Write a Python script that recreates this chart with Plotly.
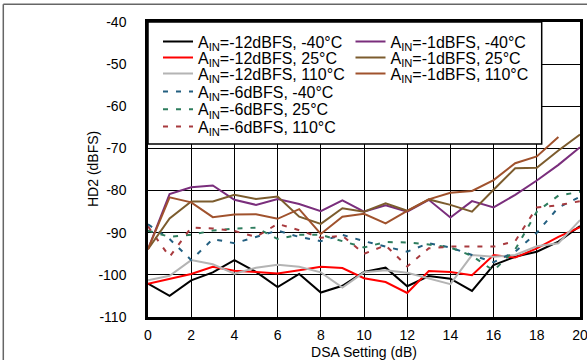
import plotly.graph_objects as go

dsa = list(range(21))

hd2_m12_m40 = [-102.1, -105.0, -101.3, -99.4, -96.5, -99.3, -102.9, -99.8, -104.2, -102.6, -99.3,
               -98.3, -102.7, -100.3, -100.9, -103.8, -97.7, -95.7, -94.5, -92.1, -88.4]
hd2_m12_25 = [-102.1, -100.9, -99.8, -98.1, -99.0, -99.3, -99.7, -98.9, -98.1, -98.4, -100.8,
              -101.7, -104.3, -99.1, -99.3, -100.1, -95.3, -95.9, -93.7, -91.0, -88.7]
hd2_m12_110 = [-101.3, -100.2, -96.5, -97.5, -99.7, -98.3, -97.6, -98.1, -99.4, -103.0, -99.4,
               -98.9, -99.5, -100.9, -102.2, -95.3, -95.7, -95.3, -93.2, -92.5, -87.0]
hd2_m6_m40 = [-88.0, -91.5, -96.5, -91.5, -92.5, -91.0, -89.5, -91.0, -92.0, -90.5, -92.0,
              -93.3, -94.5, -92.5, -93.5, -95.3, -97.0, -94.5, -90.0, -84.0, -81.5]
hd2_m6_25 = [-89.5, -91.0, -90.5, -89.5, -89.0, -88.8, -91.5, -90.5, -90.5, -92.0, -93.5,
             -92.2, -92.3, -92.8, -93.5, -95.5, -99.0, -94.0, -85.0, -81.2, -80.3]
hd2_m6_110 = [-88.5, -95.7, -88.8, -89.0, -89.6, -91.0, -87.9, -89.4, -91.2, -90.7, -95.0,
              -93.0, -98.0, -93.7, -93.3, -93.3, -93.3, -92.0, -84.0, -83.5, -82.5]
hd2_m1_m40 = [-93.9, -80.8, -79.2, -78.8, -82.2, -83.4, -82.0, -83.2, -84.9, -82.3, -85.0,
              -83.5, -85.0, -82.2, -86.4, -82.5, -84.0, -81.0, -77.6, -73.9, -69.7]
hd2_m1_25 = [-93.9, -86.6, -82.6, -82.6, -81.0, -82.0, -81.4, -86.2, -87.9, -84.2, -85.0,
             -83.0, -84.8, -82.1, -83.4, -85.0, -79.8, -74.7, -74.6, -70.5, -66.7]
hd2_m1_110 = [-93.9, -81.6, -82.8, -86.3, -85.7, -85.6, -86.7, -84.4, -90.3, -86.2, -85.5,
              -87.8, -84.8, -82.1, -80.5, -80.1, -77.5, -73.5, -71.9, -67.3, None]

series_names = [
    "A<sub>IN</sub>=-12dBFS, -40°C", "A<sub>IN</sub>=-12dBFS, 25°C", "A<sub>IN</sub>=-12dBFS, 110°C",
    "A<sub>IN</sub>=-6dBFS, -40°C", "A<sub>IN</sub>=-6dBFS, 25°C", "A<sub>IN</sub>=-6dBFS, 110°C",
    "A<sub>IN</sub>=-1dBFS, -40°C", "A<sub>IN</sub>=-1dBFS, 25°C", "A<sub>IN</sub>=-1dBFS, 110°C",
]
series_values = [hd2_m12_m40, hd2_m12_25, hd2_m12_110,
                 hd2_m6_m40, hd2_m6_25, hd2_m6_110,
                 hd2_m1_m40, hd2_m1_25, hd2_m1_110]

y_tick_vals = [-110, -100, -90, -80, -70, -60, -50, -40]
y_tick_text = ["-110", "-100", "-90", "-80", "-70", "-60", "-50", "-40"]
x_tick_vals = [0, 2, 4, 6, 8, 10, 12, 14, 16, 18, 20]
x_tick_text = ["0", "2", "4", "6", "8", "10", "12", "14", "16", "18", "20"]

FONT = "Liberation Sans, Arial, sans-serif"
DOT = "5px,8px"
colors = ["#000000", "#ff0000", "#b4b4b4", "#235f80", "#2e7d5e", "#a83a3e",
          "#7a2e7c", "#7c5c2e", "#a0522d"]
dashes = ["solid", "solid", "solid", DOT, DOT, DOT, "solid", "solid", "solid"]

# plot area geometry (pixels) used to place the legend entries
L, R, T, B = 148, 7, 22, 43
W, H = 587, 360
PW, PH = W - L - R, H - T - B


def px_x(px):
    return (px - L) / PW


def px_y(py):
    return (H - B - py) / PH


leg_x = [158, 158, 158, 158, 158, 158, 350.5, 350.5, 350.5]
leg_y = [41.5, 57.5, 73.5, 91.7, 109.3, 126.7, 41.5, 57.5, 73.5]

fig = go.Figure()
legend_layouts = {}
for i, (name, vals) in enumerate(zip(series_names, series_values)):
    lname = "legend" if i == 0 else f"legend{i + 1}"
    fig.add_trace(go.Scatter(
        x=dsa, y=vals, name=name, mode="lines",
        line=dict(color=colors[i], width=2, dash=dashes[i]),
        legend=lname, connectgaps=False,
    ))
    legend_layouts[lname] = dict(
        x=px_x(leg_x[i]), y=px_y(leg_y[i]), xanchor="left", yanchor="middle",
        bgcolor="rgba(0,0,0,0)", borderwidth=0,
        font=dict(family=FONT, size=16, color="black"),
        itemclick=False, itemdoubleclick=False,
    )

axis_common = dict(
    showgrid=True, gridcolor="#000000", gridwidth=1,
    showline=True, linecolor="#000000", linewidth=2.5, mirror=True,
    ticks="", zeroline=False, automargin=False, ticklabeloverflow="allow",
    tickfont=dict(family=FONT, size=14, color="black"),
)

fig.update_xaxes(range=[0, 20], tickmode="array", tickvals=x_tick_vals, ticktext=x_tick_text,
                 ticklabelstandoff=3,
                 title=dict(text="DSA Setting (dB)", standoff=10,
                            font=dict(family=FONT, size=14, color="black")),
                 **axis_common)
fig.update_yaxes(range=[-110, -40], tickmode="array", tickvals=y_tick_vals, ticktext=y_tick_text,
                 ticklabelstandoff=16,
                 **axis_common)

fig.update_layout(
    width=W, height=H,
    margin=dict(l=L, r=R, t=T, b=B),
    paper_bgcolor="white", plot_bgcolor="white",
    font=dict(family=FONT, size=14, color="black"),
    showlegend=True,
    annotations=[
        dict(text="HD2 (dBFS)", textangle=-90, xref="paper", yref="paper",
             x=px_x(92.5), y=0.5, xanchor="center", yanchor="middle", showarrow=False,
             font=dict(family=FONT, size=14, color="black")),
    ],
    shapes=[
        # legend box
        dict(type="rect", xref="paper", yref="paper", x0=0, x1=px_x(541.7),
             y0=px_y(144), y1=1,
             fillcolor="white", line=dict(color="black", width=1.5), layer="above"),
        # outer frame lines
        dict(type="line", xref="paper", yref="paper", x0=px_x(3.3), x1=px_x(590),
             y0=px_y(4.3), y1=px_y(4.3), line=dict(color="#666666", width=1.5)),
        dict(type="line", xref="paper", yref="paper", x0=px_x(3.3), x1=px_x(3.3),
             y0=px_y(4.3), y1=px_y(365), line=dict(color="#666666", width=1.5)),
    ],
    **legend_layouts,
)

fig.write_html("out.html", config={"displayModeBar": False},
               post_script="document.body.style.margin='0px';")
